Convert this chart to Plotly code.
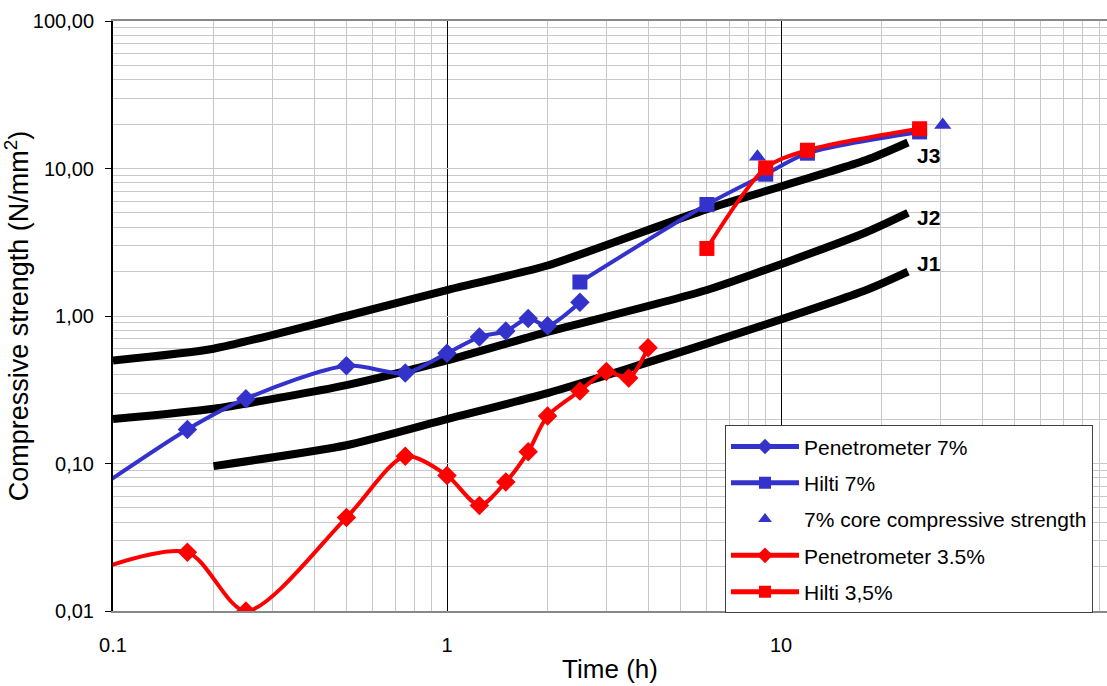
import plotly.graph_objects as go
import math

# ---------------- data ----------------
pen7_t = [0.0833, 0.167, 0.25, 0.5, 0.75, 1.0, 1.25, 1.5, 1.75, 2.0, 2.5]
pen7_v = [0.06, 0.17, 0.275, 0.46, 0.41, 0.56, 0.72, 0.79, 0.96, 0.86, 1.24]

hilti7_t = [2.5, 6.0, 9.0, 12.0, 26.0]
hilti7_v = [1.7, 5.7, 9.15, 12.7, 17.7]

core7_t = [8.5, 30.5]
core7_v = [12.0, 19.7]

pen35_t = [0.0833, 0.167, 0.25, 0.5, 0.75, 1.0, 1.25, 1.5, 1.75, 2.0, 2.5, 3.0, 3.5, 4.0]
pen35_v = [0.018, 0.025, 0.010, 0.043, 0.112, 0.083, 0.052, 0.075, 0.12, 0.21, 0.31, 0.42, 0.38, 0.61]

hilti35_t = [6.0, 9.0, 12.0, 26.0]
hilti35_v = [2.87, 10.1, 13.3, 18.6]

j23_t = [0.1, 0.2, 0.5, 1.0, 2.0, 6.0, 18.0, 24.0]
j3_v = [0.5, 0.6, 1.0, 1.5, 2.2, 5.3, 11.4, 15.0]
j2_v = [0.2, 0.235, 0.34, 0.5, 0.78, 1.5, 3.7, 5.0]
j1_t = [0.2, 0.5, 1.0, 2.0, 6.0, 18.0, 24.0]
j1_v = [0.096, 0.133, 0.2, 0.3, 0.65, 1.5, 2.0]

j_labels = ["J3", "J2", "J1"]
j_label_x = 25.2
j_label_y = [12.2, 4.69, 2.26]

x_tickvals = [0.1, 1, 10]
x_ticktext = ["0.1", "1", "10"]
y_tickvals = [0.01, 0.1, 1, 10, 100]
y_ticktext = ["0,01", "0,10", "1,00", "10,00", "100,00"]

BLUE = "#3333CC"
RED = "#FF0000"
FONT = "Liberation Sans, Arial, sans-serif"

fig = go.Figure()

# J reference curves
for tt, vv in [(j23_t, j3_v), (j23_t, j2_v), (j1_t, j1_v)]:
    fig.add_trace(go.Scatter(
        x=tt, y=vv, mode="lines", showlegend=False, hoverinfo="skip",
        line=dict(color="black", width=8, shape="spline", smoothing=0.6),
    ))

fig.add_trace(go.Scatter(
    x=pen7_t, y=pen7_v, name="Penetrometer 7%", mode="lines+markers",
    legendgroup="a",
    line=dict(color=BLUE, width=4, shape="spline", smoothing=0.8),
    marker=dict(symbol="diamond", size=15, color=BLUE),
))
fig.add_trace(go.Scatter(
    x=hilti7_t, y=hilti7_v, name="Hilti 7%", mode="lines+markers",
    legendgroup="b",
    line=dict(color=BLUE, width=4, shape="spline", smoothing=0.8),
    marker=dict(symbol="square", size=15, color=BLUE),
))
fig.add_trace(go.Scatter(
    x=core7_t, y=core7_v, name="7% core compressive strength", mode="markers",
    legendgroup="c",
    marker=dict(symbol="triangle-up", size=15, color=BLUE),
))
fig.add_trace(go.Scatter(
    x=pen35_t, y=pen35_v, name="Penetrometer 3.5%", mode="lines+markers",
    legendgroup="d",
    line=dict(color=RED, width=4, shape="spline", smoothing=0.8),
    marker=dict(symbol="diamond", size=15, color=RED),
))
fig.add_trace(go.Scatter(
    x=hilti35_t, y=hilti35_v, name="Hilti 3,5%", mode="lines+markers",
    legendgroup="e",
    line=dict(color=RED, width=4, shape="spline", smoothing=0.8),
    marker=dict(symbol="square", size=15, color=RED),
))

# J labels
for lab, yv in zip(j_labels, j_label_y):
    fig.add_annotation(
        x=math.log10(j_label_x), y=math.log10(yv), text=lab, showarrow=False,
        xanchor="left", yanchor="middle",
        font=dict(family=FONT, size=21, color="black", weight="bold"),
    )

def minor_vals(lo, hi):
    out = []
    for e in range(lo, hi):
        for m in range(2, 10):
            out.append(m * 10 ** e)
    return out

fig.update_layout(
    width=1107, height=686,
    margin=dict(l=113, r=0, t=21, b=75),
    paper_bgcolor="white", plot_bgcolor="white",
    font=dict(family=FONT, color="black", size=20),
    showlegend=True,
    legend=dict(
        x=(725 - 113) / 994, y=(610.7 - 425) / 590, xanchor="left", yanchor="top",
        bgcolor="white", bordercolor="#404040", borderwidth=1,
        font=dict(family=FONT, size=21, color="black"),
        tracegroupgap=6, itemwidth=68, itemsizing="constant",
    ),
    xaxis=dict(
        type="log", range=[-1, (1107 - 113) / 334 - 1],
        tickvals=x_tickvals, ticktext=x_ticktext, ticks="",
        showgrid=True, gridcolor="black", gridwidth=1,
        minor=dict(tickvals=minor_vals(-1, 2), showgrid=True, gridcolor="#C8C8C8", gridwidth=1, ticks=""),
        showline=True, linecolor="#888888", linewidth=2, mirror=True,
        zeroline=False, ticklabelstandoff=15,
        tickfont=dict(size=20),
        title=dict(text="Time (h)", font=dict(size=26), standoff=5),
    ),
    yaxis=dict(
        type="log", range=[-2, 2],
        tickvals=y_tickvals, ticktext=y_ticktext,
        ticks="outside", ticklen=6, tickcolor="black", tickwidth=1,
        showgrid=True, gridcolor="#C8C8C8", gridwidth=1,
        minor=dict(tickvals=minor_vals(-2, 2), showgrid=True, gridcolor="#C8C8C8", gridwidth=1, ticks=""),
        showline=True, linecolor="black", linewidth=2, mirror=False,
        zeroline=False, ticklabelstandoff=7,
        tickfont=dict(size=20),
        title=dict(text="Compressive strength (N/mm<sup>2</sup>)", font=dict(size=27), standoff=2),
    ),
)

fig.write_html("out.html", config={"displayModeBar": False},
               post_script="document.body.style.margin='0px';")
